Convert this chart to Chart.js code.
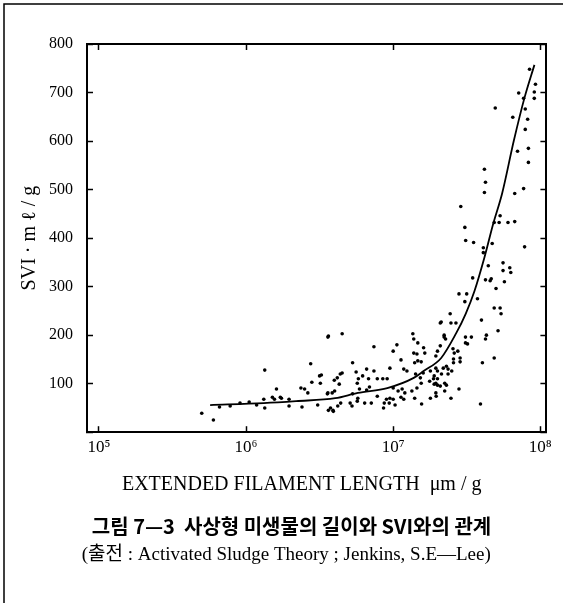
<!DOCTYPE html>
<html>
<head>
<meta charset="utf-8">
<script src="https://cdn.jsdelivr.net/npm/chart.js@4/dist/chart.umd.min.js"></script>
<style>
  html, body { margin: 0; padding: 0; background: #fff; }
</style>
</head>
<body>
<canvas id="myChart" width="563" height="603"></canvas>
<script>
// x ticks (powers of ten) and their labels
var xTickValues = [1e5, 1e6, 1e7, 1e8]
var xTickLabels = ['10⁵', '10⁶', '10⁷', '10⁸']

// measured points: filament length (µm/g) and SVI (ml/g)
var filamentLength = [
  5.0e5, 6.0e5, 6.6e5, 7.8e5, 9.1e5, 1.05e6, 1.18e6, 1.34e6, 1.32e6, 1.34e6,
  1.56e6, 1.61e6, 1.74e6, 1.96e6, 1.96e6, 2.36e6, 2.4e6, 2.63e6, 2.75e6, 2.8e6,
  3.07e6, 3.16e6, 3.2e6, 3.25e6, 3.57e6, 3.63e6, 3.92e6, 3.63e6, 1.51e6, 1.71e6,
  2.5e6, 3.98e6, 4.37e6,
  3.6e6, 4.5e6, 7.4e6, 1.06e7, 1.0e7, 1.36e7, 2.09e7, 2.22e7, 1.38e7, 1.47e7,
  1.38e7, 1.45e7, 1.61e7, 1.64e7, 1.47e7, 1.55e7, 1.4e7, 5.3e6, 1.13e7, 2.09e7,
  2.0e7, 1.95e7, 4.5e6, 4.17e6, 5.6e6, 6.6e6, 7.4e6, 9.5e6, 1.18e7, 1.24e7,
  6.2e6, 5.8e6, 5.7e6, 4.3e6, 6.8e6, 6.9e6, 7.8e6, 8.5e6, 9.1e6, 5.9e6,
  6.6e6, 5.3e6, 3.6e6, 3.85e6, 4.0e6, 4.4e6, 4.2e6, 3.75e6, 3.9e6, 5.1e6,
  5.25e6, 5.75e6, 5.7e6, 6.4e6, 7.1e6, 7.8e6, 9.0e6, 8.7e6, 8.6e6, 1.0e7,
  1.08e7, 1.15e7, 1.2e7, 1.13e7, 1.18e7, 1.0e7, 1.03e7, 9.5e6, 9.4e6, 1.4e7,
  1.56e7, 1.79e7, 1.96e7, 1.42e7, 1.53e7, 1.55e7, 1.77e7, 1.88e7, 1.79e7, 1.6e7,
  1.34e7, 1.45e7, 1.95e7, 2.0e7, 2.19e7, 2.13e7, 2.24e7, 2.09e7, 2.24e7,
  4.17e7, 6.7e7, 2.88e7, 3.07e7, 3.11e7, 3.52e7, 4.1e7, 4.1e7, 4.71e7, 4.86e7,
  5.25e7, 6.03e7, 6.7e7, 5.33e7, 7.82e7, 4.43e7, 5.58e7, 5.58e7, 6.2e7, 6.3e7,
  5.7e7, 3.47e7, 4.24e7, 4.56e7, 4.64e7, 5.0e7, 2.8e7, 3.16e7, 3.07e7, 3.74e7,
  4.86e7, 5.33e7, 5.41e7, 3.98e7, 5.16e7, 4.3e7, 4.24e7, 4.86e7, 4.04e7, 3.92e7,
  2.12e7, 2.47e7, 2.67e7, 2.44e7, 2.22e7, 2.27e7, 3.1e7, 3.4e7, 3.1e7, 3.2e7,
  2.55e7, 2.6e7, 2.75e7, 2.85e7, 2.57e7, 2.85e7, 2.57e7, 2.3e7, 2.36e7, 2.5e7,
  2.36e7, 1.9e7, 2.0e7, 1.95e7, 1.9e7, 2.0e7, 2.3e7, 1.95e7, 2.47e7, 2.8e7,
  8.45e7, 9.27e7, 9.1e7, 9.1e7, 7.13e7, 7.7e7, 7.9e7, 4.94e7, 6.5e7, 8.2e7,
  7.9e7, 7.0e7, 8.3e7, 8.3e7, 4.17e7, 4.24e7, 7.7e7
]
var svi = [
  39, 25, 52, 54, 60, 62, 56, 50, 68, 128,
  68, 89, 70, 68, 54, 91, 52, 81, 141, 103,
  56, 116, 101, 118, 79, 45, 43, 198, 72, 72,
  89, 107, 120,
  196, 203, 176, 180, 167, 203, 225, 200, 192, 184,
  163, 161, 174, 163, 147, 145, 143, 143, 149, 178,
  167, 157, 122, 112, 124, 130, 126, 132, 130, 126,
  116, 110, 101, 99, 110, 93, 110, 110, 110, 89,
  87, 79, 81, 81, 85, 60, 54, 50, 45, 60,
  54, 70, 64, 60, 60, 74, 68, 60, 50, 91,
  85, 89, 81, 72, 68, 68, 56, 70, 60, 70,
  58, 70, 74, 120, 112, 101, 105, 110, 126, 122,
  85, 91, 132, 126, 132, 120, 101, 95, 85,
  494, 492, 465, 422, 395, 391, 380, 370, 389, 432,
  432, 432, 434, 446, 382, 343, 349, 333, 339, 329,
  310, 318, 314, 312, 316, 296, 285, 285, 269, 275,
  256, 256, 244, 231, 209, 200, 192, 153, 143, 58,
  227, 225, 225, 244, 196, 192, 196, 196, 184, 182,
  172, 163, 167, 153, 151, 145, 143, 136, 130, 126,
  120, 116, 110, 101, 99, 97, 97, 81, 70, 89,
  748, 717, 701, 688, 699, 688, 666, 668, 649, 645,
  624, 579, 585, 556, 542, 515, 502
]

// fitted curve through the points
var curveLength = [5.7e5, 1.32e6, 2.19e6, 4.04e6, 5.75e6, 9.12e6, 1.38e7, 1.61e7, 2.12e7,
  2.67e7, 3.11e7, 3.57e7, 4.17e7, 4.79e7, 5.5e7, 6.61e7, 7.82e7, 9.12e7]
var curveSvi = [56, 60, 64, 70, 81, 91, 112, 126, 153, 203, 244, 291, 360, 430, 492, 601, 690, 757]

var serif = "'Liberation Serif', 'DejaVu Serif', serif"

// page frame (top and left rule of the scanned figure)
var frame = {
  id: 'frame',
  beforeDraw: function(chart) {
    var c = chart.ctx
    c.save()
    c.fillStyle = '#fff'
    c.fillRect(0, 0, chart.width, chart.height)
    c.strokeStyle = '#000'
    c.lineWidth = 1.5
    c.beginPath()
    c.moveTo(4, chart.height)
    c.lineTo(4, 4)
    c.lineTo(chart.width, 4)
    c.stroke()
    c.restore()
  }
}

function powTicks(scale) {
  scale.ticks = xTickValues.map(function(v) { return {value: v} })
}

var gridOpts = {drawOnChartArea: false, drawTicks: true, tickLength: -6, tickColor: '#000', tickWidth: 1.5}
var borderOpts = {display: true, color: '#000', width: 2}

var ctx = document.getElementById('myChart')
var chart = new Chart(ctx, {
  type: 'scatter',
  data: {
    datasets: [{
      label: 'data',
      data: filamentLength.map(function(x, i) { return {x: x, y: svi[i]} }),
      pointRadius: 1.8,
      pointBorderWidth: 0,
      pointBackgroundColor: '#000',
      pointBorderColor: '#000'
    }, {
      label: 'curve',
      data: curveLength.map(function(x, i) { return {x: x, y: curveSvi[i]} }),
      showLine: true,
      pointRadius: 0,
      borderColor: '#000',
      borderWidth: 1.8,
      cubicInterpolationMode: 'monotone'
    }]
  },
  options: {
    responsive: false,
    animation: false,
    layout: {padding: 0},
    plugins: {
      legend: {display: false},
      tooltip: {enabled: false},
      title: {
        display: true,
        position: 'bottom',
        weight: 1000,
        text: '\u2003그림 7—3  사상형 미생물의 길이와 SVI와의 관계',
        color: '#000',
        font: {family: "'Noto Sans CJK KR', sans-serif", size: 20, weight: 'bold'},
        padding: {top: 17, bottom: 0}
      },
      subtitle: {
        display: true,
        position: 'bottom',
        weight: 2000,
        text: '\u2002(출전 : Activated Sludge Theory ; Jenkins, S.E—Lee)',
        color: '#000',
        font: {family: "'Liberation Serif', 'Noto Sans CJK KR', serif", size: 19},
        padding: {top: 5, bottom: 37}
      }
    },
    scales: {
      x: {
        type: 'logarithmic',
        position: 'bottom',
        min: 83000,
        max: 1.1e8,
        afterBuildTicks: powTicks,
        afterFit: function(s) { s.height = 65 },
        grid: gridOpts,
        border: borderOpts,
        ticks: {
          autoSkip: false,
          maxRotation: 0,
          padding: 11,
          color: '#000',
          font: {family: serif, size: 17},
          callback: function(v, i) { return xTickLabels[i] }
        },
        title: {
          display: true,
          text: 'EXTENDED FILAMENT LENGTH  μm / g\u2003\u2002',
          color: '#000',
          font: {family: serif, size: 20},
          padding: {top: 0, bottom: 0}
        }
      },
      x2: {
        type: 'logarithmic',
        position: 'top',
        min: 83000,
        max: 1.1e8,
        afterBuildTicks: powTicks,
        afterFit: function(s) { s.height = 44 },
        grid: gridOpts,
        border: borderOpts,
        ticks: {display: false}
      },
      y: {
        position: 'left',
        min: 0,
        max: 800,
        afterFit: function(s) { s.width = 87 },
        grid: gridOpts,
        border: borderOpts,
        ticks: {
          stepSize: 100,
          padding: 20,
          color: '#000',
          font: {family: serif, size: 16},
          callback: function(v) { return v === 0 ? '' : v }
        },
        title: {
          display: true,
          text: 'SVI · m ℓ / g',
          color: '#000',
          font: {family: serif, size: 20},
          padding: {top: 18, bottom: 0}
        }
      },
      y2: {
        position: 'right',
        min: 0,
        max: 800,
        afterFit: function(s) { s.width = 8 },
        grid: gridOpts,
        border: borderOpts,
        ticks: {stepSize: 100, display: false}
      }
    }
  },
  plugins: [frame]
})
</script>
</body>
</html>
